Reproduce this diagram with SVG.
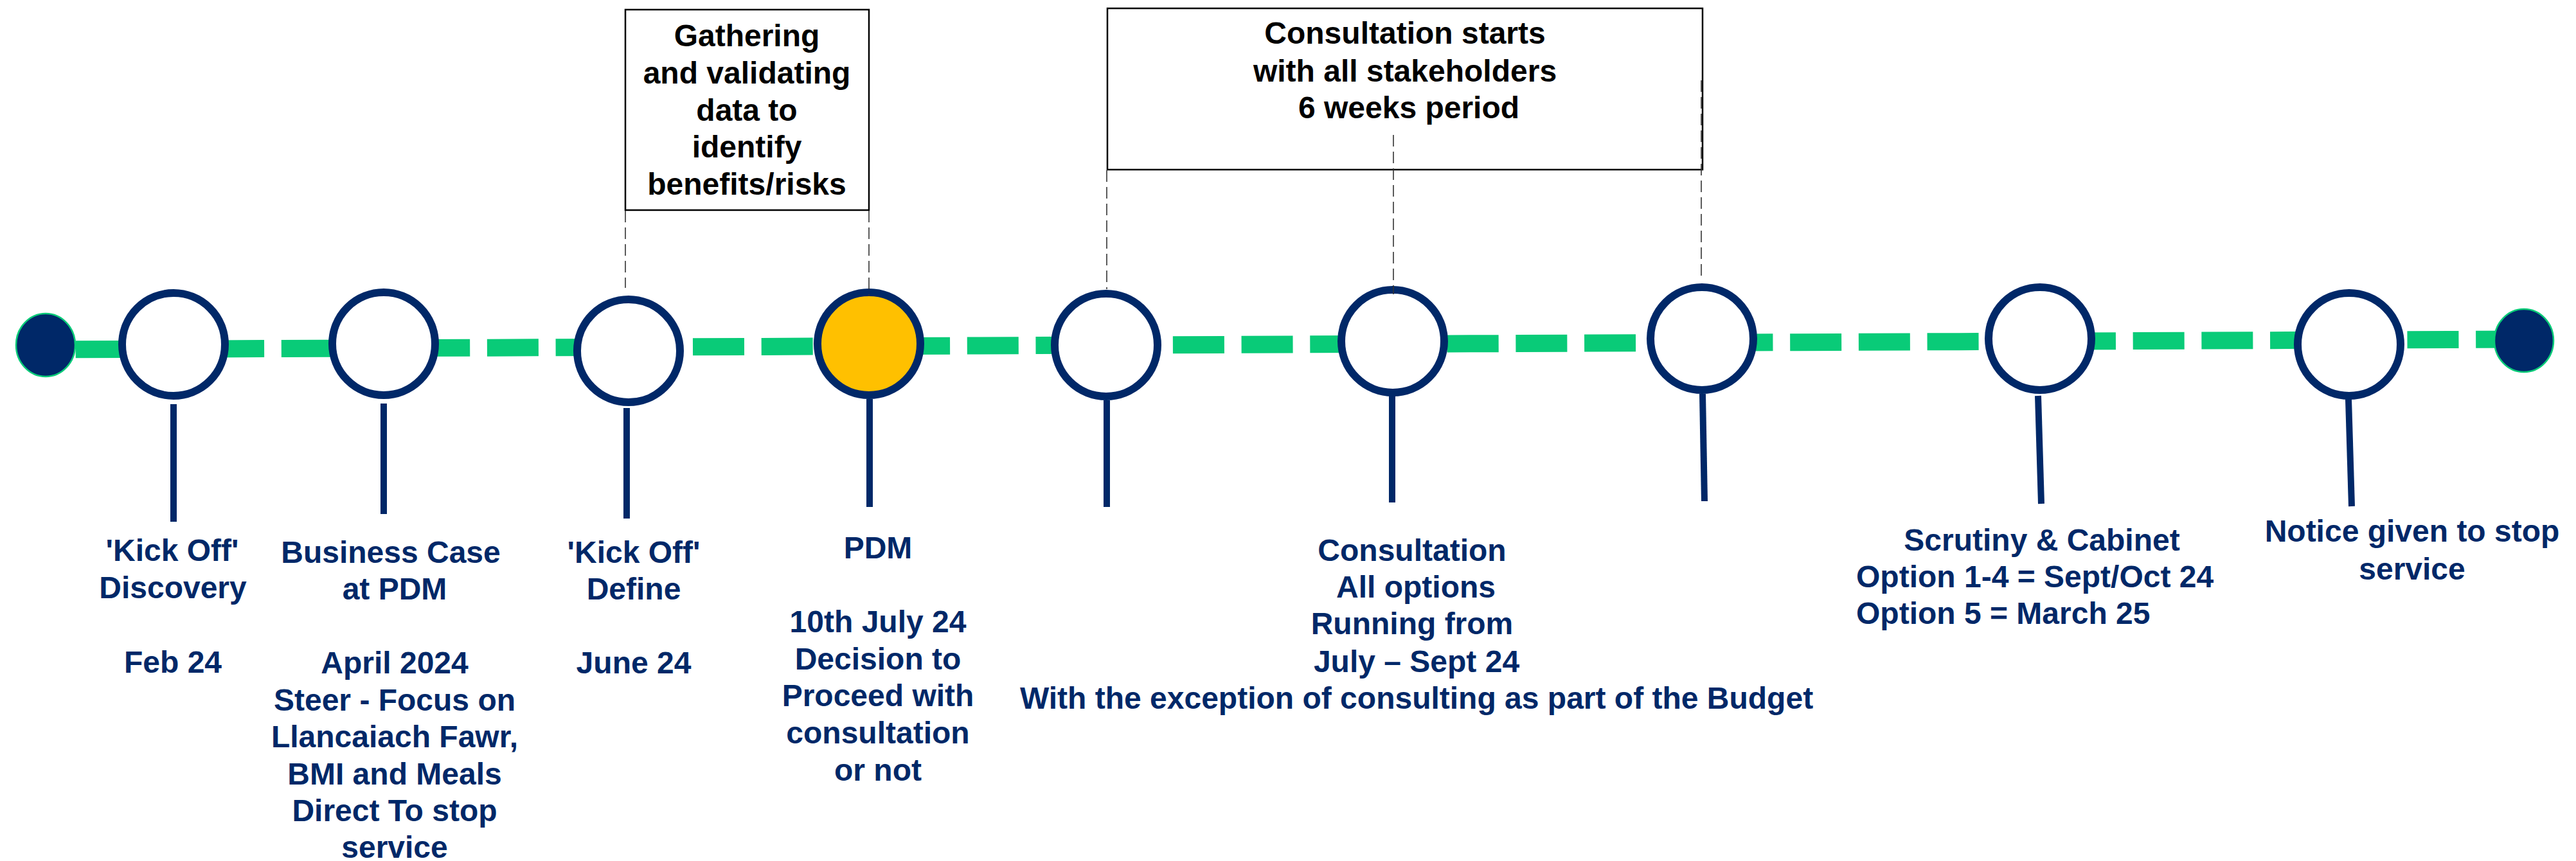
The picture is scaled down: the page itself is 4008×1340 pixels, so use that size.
<svg xmlns="http://www.w3.org/2000/svg" width="4008" height="1340" viewBox="0 0 4008 1340">
<style>
.lbl{font-family:"Liberation Sans",Arial,sans-serif;font-weight:bold;font-size:48px;fill:#002868;text-anchor:middle}
.box{font-family:"Liberation Sans",Arial,sans-serif;font-weight:bold;font-size:48px;fill:#000;text-anchor:middle}
.node{fill:#fff;stroke:#002868;stroke-width:12}
.stem{stroke:#002868;stroke-width:10;fill:none}
.guide{stroke:#333;stroke-width:1.6;stroke-dasharray:18 8;fill:none}
.frame{fill:#fff;stroke:#000;stroke-width:2.5}
</style>
<rect width="4008" height="1340" fill="#fff"/>
<g id="connectors">
  <path d="M71 544 L3930 528" stroke="#09CB78" stroke-width="27" stroke-dasharray="80 26.7" stroke-dashoffset="60" fill="none"/>
</g>
<g id="box-gathering">
  <rect class="frame" x="973" y="15" width="379" height="312"/>
  <text class="box" x="1162" y="72">Gathering</text>
  <text class="box" x="1162" y="130">and validating</text>
  <text class="box" x="1162" y="188">data to</text>
  <text class="box" x="1162" y="245">identify</text>
  <text class="box" x="1162" y="303">benefits/risks</text>
</g>
<g id="box-consultation">
  <rect class="frame" x="1723" y="13" width="926" height="251"/>
  <text class="box" x="2186" y="68">Consultation starts</text>
  <text class="box" x="2186" y="127">with all stakeholders</text>
  <text class="box" x="2192" y="184">6 weeks period</text>
</g>
<g id="start"><ellipse cx="71" cy="537" rx="46" ry="49" fill="#002868" stroke="#09CB78" stroke-width="2.5"/></g>
<g id="end"><ellipse cx="3927" cy="530" rx="46" ry="49" fill="#002868" stroke="#09CB78" stroke-width="2.5"/></g>
<g id="n1"><circle class="node" cx="270" cy="536" r="80"/></g>
<g id="n2"><circle class="node" cx="597" cy="535" r="80"/></g>
<g id="n3"><circle class="node" cx="978" cy="546" r="80"/></g>
<g id="n4"><circle class="node" cx="1352" cy="535" r="80" style="fill:#FFC000"/></g>
<g id="n5"><circle class="node" cx="1721" cy="537" r="80"/></g>
<g id="n6"><circle class="node" cx="2167" cy="531" r="80"/></g>
<g id="n7"><circle class="node" cx="2648" cy="527" r="80"/></g>
<g id="n8"><circle class="node" cx="3174" cy="527" r="80"/></g>
<g id="n9"><circle class="node" cx="3655" cy="536" r="80"/></g>
<g id="stems-guides">
  <line class="stem" x1="270" y1="629" x2="270" y2="812"/>
  <line class="stem" x1="597" y1="628" x2="597" y2="800"/>
  <line class="stem" x1="975" y1="635" x2="975" y2="807"/>
  <line class="stem" x1="1353" y1="621" x2="1353" y2="789"/>
  <line class="stem" x1="1722" y1="623" x2="1722" y2="789"/>
  <line class="stem" x1="2166" y1="615" x2="2166" y2="782"/>
  <line class="stem" x1="2649" y1="613" x2="2652" y2="780"/>
  <line class="stem" x1="3171" y1="616" x2="3176" y2="784"/>
  <line class="stem" x1="3654" y1="621" x2="3659" y2="788"/>
  <line class="guide" x1="973" y1="328" x2="973" y2="448"/>
  <line class="guide" x1="1352" y1="328" x2="1352" y2="461"/>
  <line class="guide" x1="1722" y1="265" x2="1722" y2="450"/>
  <line class="guide" x1="2168" y1="210" x2="2168" y2="458"/>
  <line class="guide" x1="2647" y1="125" x2="2647" y2="435"/>
</g>
<g id="label1">
  <text class="lbl" x="268" y="873">'Kick Off'</text>
  <text class="lbl" x="269" y="931">Discovery</text>
  <text class="lbl" x="269" y="1047">Feb 24</text>
</g>
<g id="label2">
  <text class="lbl" x="608" y="876">Business Case</text>
  <text class="lbl" x="614" y="933">at PDM</text>
  <text class="lbl" x="614" y="1048">April 2024</text>
  <text class="lbl" x="614" y="1106">Steer - Focus on</text>
  <text class="lbl" x="614" y="1163">Llancaiach Fawr,</text>
  <text class="lbl" x="614" y="1221">BMI and Meals</text>
  <text class="lbl" x="614" y="1278">Direct To stop</text>
  <text class="lbl" x="614" y="1335">service</text>
</g>
<g id="label3">
  <text class="lbl" x="986" y="876">'Kick Off'</text>
  <text class="lbl" x="986" y="933">Define</text>
  <text class="lbl" x="986" y="1048">June 24</text>
</g>
<g id="label4">
  <text class="lbl" x="1366" y="869">PDM</text>
  <text class="lbl" x="1366" y="984">10th July 24</text>
  <text class="lbl" x="1366" y="1042">Decision to</text>
  <text class="lbl" x="1366" y="1099">Proceed with</text>
  <text class="lbl" x="1366" y="1157">consultation</text>
  <text class="lbl" x="1366" y="1215">or not</text>
</g>
<g id="label6">
  <text class="lbl" x="2197" y="873">Consultation</text>
  <text class="lbl" x="2203" y="930">All options</text>
  <text class="lbl" x="2197" y="987">Running from</text>
  <text class="lbl" x="2204" y="1046">July – Sept 24</text>
  <text class="lbl" x="2204" y="1103">With the exception of consulting as part of the Budget</text>
</g>
<g id="label8">
  <text class="lbl" x="3177" y="857">Scrutiny &amp; Cabinet</text>
  <text class="lbl" x="2888" y="914" style="text-anchor:start">Option 1-4 = Sept/Oct 24</text>
  <text class="lbl" x="2888" y="971" style="text-anchor:start">Option 5 = March 25</text>
</g>
<g id="label9">
  <text class="lbl" x="3753" y="843">Notice given to stop</text>
  <text class="lbl" x="3753" y="902">service</text>
</g>
</svg>
